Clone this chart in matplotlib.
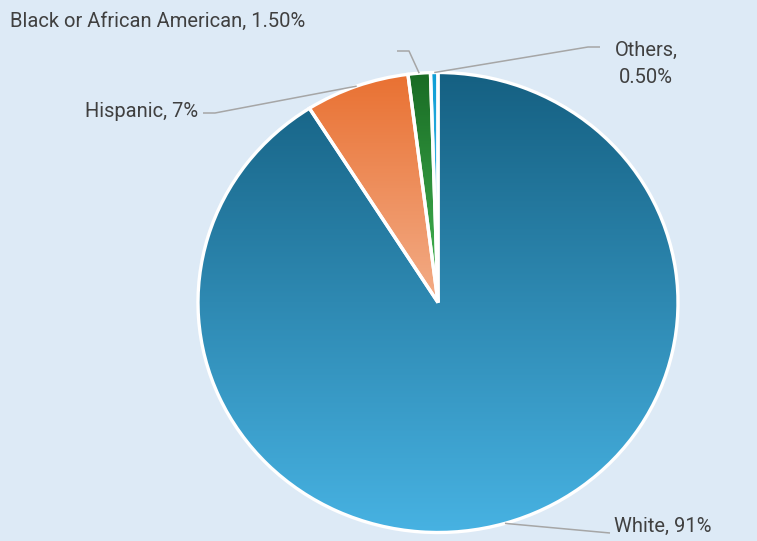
import numpy as np
import matplotlib
matplotlib.use("Agg")
import matplotlib.pyplot as plt
from matplotlib.colors import to_rgb

# Data
groups = ["White", "Hispanic", "Black or African American", "Others"]
shares = [91, 7, 1.5, 0.5]
label_texts = ["White, 91%", "Hispanic, 7%", "Black or African American, 1.50%", "Others,\n0.50%"]

# gradient colours (top, bottom) for each slice
top_colors = ["#156082", "#E97132", "#196B24", "#0F9ED5"]
bottom_colors = ["#47B2E2", "#F3AD88", "#45B955", "#5EC4EC"]

plt.rcParams['font.family'] = ['Roboto', 'DejaVu Sans']

fig = plt.figure(figsize=(7.57, 5.41), dpi=100)
fig.patch.set_facecolor("#DDEAF6")
ax = fig.add_axes([0, 0, 1, 1])
ax.set_facecolor("#DDEAF6")

wedges, _ = ax.pie(shares, startangle=90, counterclock=False,
                   wedgeprops=dict(edgecolor="white", linewidth=2.4))

# vertical gradient fill clipped to each wedge
for w, c0, c1 in zip(wedges, top_colors, bottom_colors):
    bb = w.get_path().get_extents()
    t = np.linspace(0, 1, 256)[:, None, None]
    grad = (1 - t) * np.array(to_rgb(c0)) + t * np.array(to_rgb(c1))
    im = ax.imshow(grad, extent=[bb.x0, bb.x1, bb.y0, bb.y1], origin="upper",
                   aspect="auto", interpolation="bilinear", zorder=1)
    im.set_clip_path(w)
    w.set_facecolor("none")
    w.set_zorder(3)

# pixel -> data mapping (pie centre at px 438, 302.5, radii 240 x 230)
cx, cy, rx, ry = 438, 302.5, 240, 230
ax.set_aspect("auto")
ax.set_xlim((0 - cx) / rx, (757 - cx) / rx)
ax.set_ylim((cy - 541) / ry, (cy - 0) / ry)
ax.axis("off")

def px(x, y):
    return (x - cx) / rx, (cy - y) / ry

# label placement in pixels: text anchor, elbow points
label_pos = [(614, 532, "left", "baseline"), (198, 117, "right", "baseline"),
             (10, 27, "left", "baseline"), (646, 83, "center", "baseline")]
elbows = [[(610, 533)], [(215, 113), (203, 113)], [(409, 51), (397, 51)],
          [(588, 47), (600, 47)]]

text_color = "#404040"
for w, txt, (tx, ty, ha, va), pts in zip(wedges, label_texts, label_pos, elbows):
    mid = np.deg2rad((w.theta1 + w.theta2) / 2)
    xs = [np.cos(mid)] + [px(*p)[0] for p in pts]
    ys = [np.sin(mid)] + [px(*p)[1] for p in pts]
    ax.plot(xs, ys, color="#A6A6A6", lw=1.1, zorder=4, solid_capstyle="butt")
    x, y = px(tx, ty)
    ax.text(x, y, txt, ha=ha, va=va, fontsize=14.5, color=text_color,
            linespacing=1.55, multialignment="center")

fig.savefig("out.png", dpi=100, facecolor=fig.get_facecolor())
